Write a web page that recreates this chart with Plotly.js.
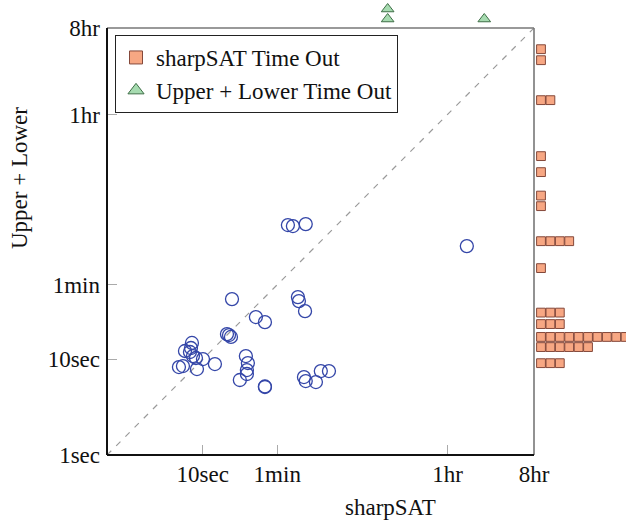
<!DOCTYPE html>
<html>
<head>
<meta charset="utf-8">
<script src="https://cdn.plot.ly/plotly-3.0.1.min.js"></script>
<style>html,body{margin:0;padding:0;background:#fff;}#chart{width:626px;height:522px;}</style>
</head>
<body>
<div id="chart"></div>
<script>
// Solved instances: sharpSAT time (s) vs Upper + Lower time (s)
var sharpSATTime = [20.2, 35.9, 44.6, 17.9, 18.8, 19.7, 7.71, 7.53, 6.52, 7.35, 7.90, 8.49, 10.05, 13.4, 5.64, 6.21, 8.70,
  28.2, 29.6, 28.9, 28.9, 24.4, 44.6, 44.6, 114, 119, 152, 171, 208, 77.5, 87.4, 119, 98.6, 101, 117, 5728];
var upperLowerTime = [42.5, 27.6, 24.4, 18.3, 17.9, 17.1, 14.8, 13.1, 12.2, 11.9, 10.8, 10.3, 10.05, 8.91, 8.29, 8.49, 7.90,
  10.8, 9.13, 7.71, 7.01, 6.07, 5.13, 5.20, 6.52, 5.92, 5.78, 7.53, 7.53, 252, 246, 258, 44.6, 40.5, 31.8, 152];

// sharpSAT time-outs: Upper + Lower time (s) and number of instances at that time
var sharpTimeoutY = [17300, 13280, 5080, 1322, 900, 512, 397, 171, 89.5, 30.7, 23.3, 17.1, 13.4, 9.1];
var sharpTimeoutCount = [1, 1, 2, 1, 1, 1, 1, 4, 1, 3, 3, 10, 6, 3];

// Upper + Lower time-outs: sharpSAT time (s) and number of instances
var ulTimeoutX = [853, 8710];
var ulTimeoutCount = [2, 1];

// Axis ticks (seconds)
var xTickVals = [10, 60, 3600, 28800];
var xTickText = ['10sec', '1min', '1hr', '8hr'];
var yTickVals = [1, 10, 60, 3600, 28800];
var yTickText = ['1sec', '10sec', '1min', '1hr', '8hr'];
var timeLimit = 28800;
var diagonal = [1, timeLimit];

// expand stacked markers
var sqX = [], sqY = [];
sharpTimeoutY.forEach(function (v, i) {
  for (var k = 1; k <= sharpTimeoutCount[i]; k++) { sqX.push(k); sqY.push(v); }
});
var trX = [], trY = [];
ulTimeoutX.forEach(function (v, i) {
  for (var k = 1; k <= ulTimeoutCount[i]; k++) { trX.push(v); trY.push(k); }
});

var FONT = 'Liberation Serif, Times New Roman, serif';
var FS = 23;
var sqColor = '#f7a783', sqLine = '#84483a';
var trColor = '#a6dbb0', trLine = '#3f6f47';
var blue = '#3446a8';

var L = 107 / 626, R = 534 / 626, B = (522 - 455) / 522, T = (522 - 28) / 522;

var traces = [
  { x: diagonal, y: diagonal, mode: 'lines', xaxis: 'x', yaxis: 'y', showlegend: false, hoverinfo: 'skip',
    line: { color: '#9a9a9a', width: 1.2, dash: '6px,7px' } },
  { x: sharpSATTime, y: upperLowerTime, mode: 'markers', xaxis: 'x', yaxis: 'y', showlegend: false,
    marker: { symbol: 'circle-open', size: 13, color: blue, line: { width: 1.3, color: blue } } },
  { x: sqX, y: sqY, mode: 'markers', xaxis: 'x2', yaxis: 'y', showlegend: false, cliponaxis: true,
    marker: { symbol: 'square', size: 8.8, color: sqColor, line: { width: 1, color: sqLine } } },
  { x: trX, y: trY, mode: 'markers', xaxis: 'x', yaxis: 'y3', showlegend: false, cliponaxis: false,
    marker: { symbol: 'triangle-up', size: 11, color: trColor, line: { width: 1, color: trLine } } },
  { x: [null], y: [null], mode: 'markers', xaxis: 'x', yaxis: 'y', name: 'sharpSAT Time Out',
    marker: { symbol: 'square', size: 13, color: sqColor, line: { width: 1, color: sqLine } } },
  { x: [null], y: [null], mode: 'markers', xaxis: 'x', yaxis: 'y', name: 'Upper + Lower Time Out',
    marker: { symbol: 'triangle-up', size: 14, color: trColor, line: { width: 1, color: trLine } } }
];

var layout = {
  width: 626, height: 522,
  margin: { l: 0, r: 0, t: 0, b: 0 },
  paper_bgcolor: '#fff', plot_bgcolor: 'rgba(0,0,0,0)',
  font: { family: FONT, size: FS, color: '#111' },
  showlegend: true,
  legend: { x: 115 / 626, y: (522 - 35) / 522, xanchor: 'left', yanchor: 'top',
    bgcolor: '#fff', bordercolor: '#222', borderwidth: 1, traceorder: 'normal',
    font: { family: FONT, size: FS, color: '#111' } },
  xaxis: { type: 'log', domain: [L, R], range: [0, Math.log10(timeLimit)], anchor: 'y',
    tickvals: xTickVals, ticktext: xTickText, ticks: 'inside', ticklen: 10, tickwidth: 1, tickcolor: '#aaa',
    showgrid: false, zeroline: false, showline: false, ticklabelstandoff: 3 },
  yaxis: { type: 'log', domain: [B, T], range: [0, Math.log10(timeLimit)], anchor: 'x',
    tickvals: yTickVals, ticktext: yTickText, ticks: 'inside', ticklen: 10, tickwidth: 1, tickcolor: '#aaa',
    showgrid: false, zeroline: false, showline: false, ticklabelstandoff: 6 },
  xaxis2: { domain: [R, 1], range: [0.255, 10.04], anchor: 'y', visible: false, fixedrange: true },
  yaxis3: { domain: [T, 1], range: [0.1, 2.9], anchor: 'x', visible: false, fixedrange: true },
  shapes: [
    { type: 'line', xref: 'paper', yref: 'paper', x0: L, x1: R, y0: T, y1: T, line: { color: '#777', width: 1.6 } },
    { type: 'line', xref: 'paper', yref: 'paper', x0: R, x1: R, y0: B, y1: T, line: { color: '#777', width: 1.6 } },
    { type: 'line', xref: 'paper', yref: 'paper', x0: L, x1: R, y0: B, y1: B, line: { color: '#111', width: 2 } },
    { type: 'line', xref: 'paper', yref: 'paper', x0: L, x1: L, y0: B, y1: T, line: { color: '#111', width: 2 } }
  ],
  annotations: [
    { text: 'sharpSAT', xref: 'paper', yref: 'paper', x: 390 / 626, y: (522 - 507) / 522,
      xanchor: 'center', yanchor: 'middle', showarrow: false, font: { family: FONT, size: FS, color: '#111' } },
    { text: 'Upper + Lower', xref: 'paper', yref: 'paper', x: 19 / 626, y: (522 - 178) / 522, textangle: -90,
      xanchor: 'center', yanchor: 'middle', showarrow: false, font: { family: FONT, size: FS, color: '#111' } }
  ]
};

Plotly.newPlot('chart', traces, layout, { displayModeBar: false, staticPlot: true });
</script>
</body>
</html>
